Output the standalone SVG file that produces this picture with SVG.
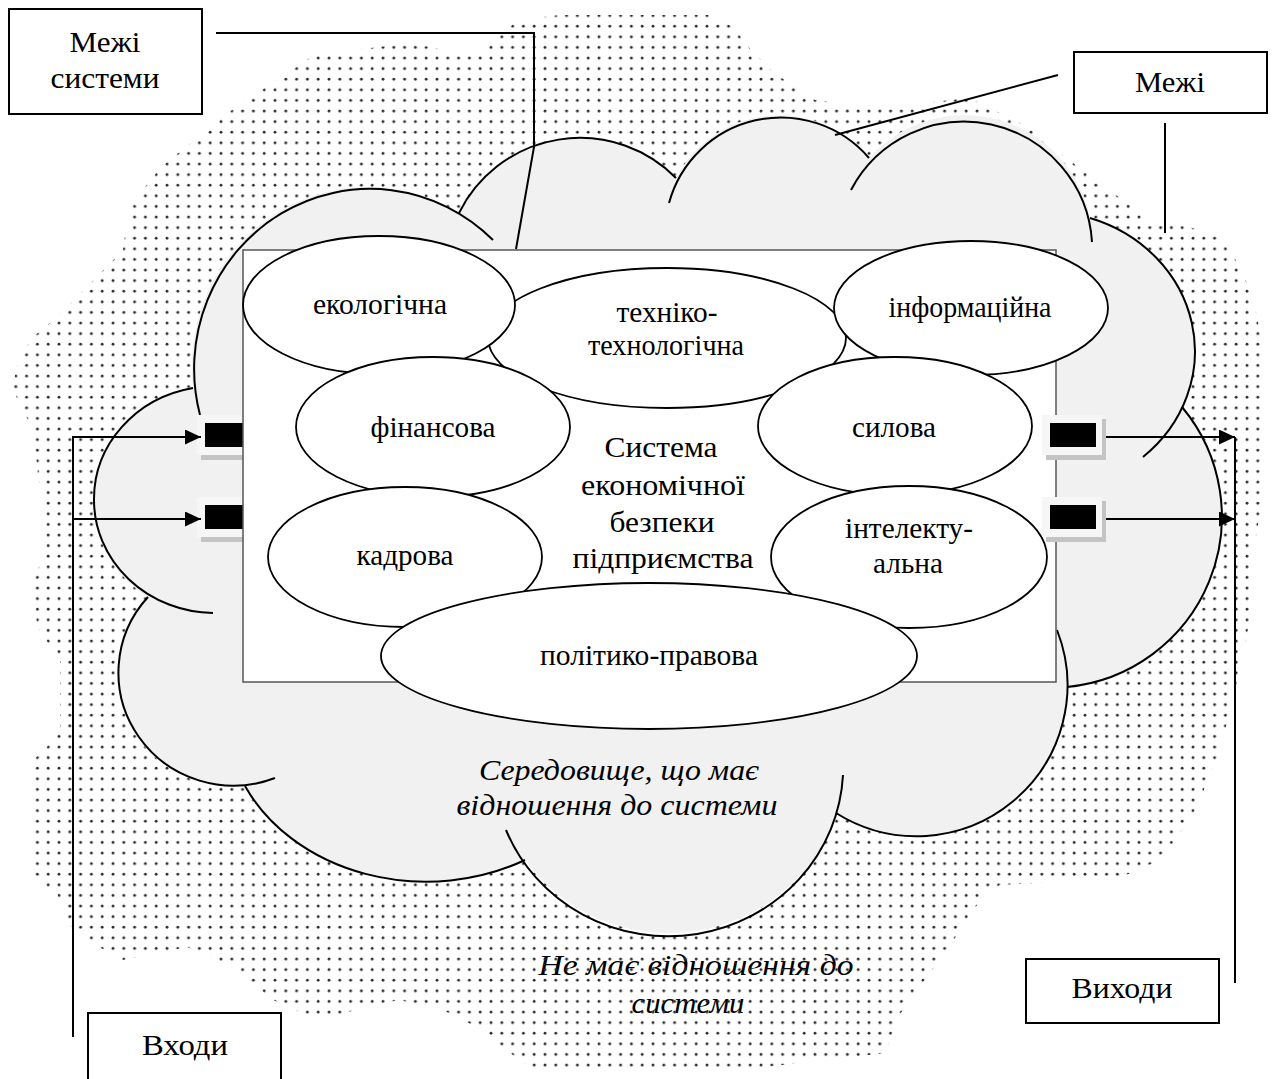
<svg xmlns="http://www.w3.org/2000/svg" width="1273" height="1079" viewBox="0 0 1273 1079">
<defs>
<pattern id="dots" patternUnits="userSpaceOnUse" width="10.8" height="10.6"><circle cx="5" cy="5" r="1.4" fill="#2a2a2a"/></pattern>
<marker id="arr" markerUnits="userSpaceOnUse" markerWidth="17" markerHeight="16" refX="16" refY="7.5" orient="auto"><path d="M0,0 L16,7.5 L0,15 Z" fill="#000"/></marker>
</defs>
<style>
.t{font-family:"Liberation Serif","Times New Roman",serif;font-size:30px;fill:#000;text-anchor:middle}
.i{font-style:italic}
.el{fill:#fff;stroke:#000;stroke-width:1.8}
.box{fill:#fff;stroke:#000;stroke-width:2}
.ln{fill:none;stroke:#000;stroke-width:2}
.cl{fill:none;stroke:#000;stroke-width:2}
.pl{fill:#f6f6f6}
.ps{fill:#c4c4c4}
</style>
<rect width="1273" height="1079" fill="#fff"/>
<g id="outside-text">
<text class="t i" x="696" y="975" textLength="315" lengthAdjust="spacingAndGlyphs">Не має відношення до</text>
<text class="t i" x="688" y="1013" textLength="113" lengthAdjust="spacingAndGlyphs">системи</text>
</g>
<g id="environment">
<path fill="url(#dots)" d="M123,250 L129,207 L161,167 L232,110 L314,55 L411,43 L475,57 L518,20 L560,15 L710,15 L733,27 L751,50 L774,73 L815,100 L878,108 L969,98 L1028,127 L1069,160 L1105,187 L1150,220 L1219,233 L1240,267 L1253,297 L1263,347 L1263,420 L1260,513 L1252,560 L1252,610 L1240,667 L1230,713 L1217,757 L1197,807 L1173,843 L1153,863 L1133,873 L1100,880 L1000,885 L985,893 L949,947 L912,997 L896,1020 L886,1053 L765,1067 L581,1073 L529,1067 L476,1027 L450,1013 L400,1000 L383,1003 L317,1020 L273,1000 L233,967 L187,947 L123,960 L90,942 L67,923 L57,893 L33,880 L33,760 L47,747 L60,727 L60,660 L37,627 L33,577 L47,553 L33,430 L13,390 L13,383 L20,357 L33,337 L57,317 L87,287 Z"/>
</g>
<g id="cloud">
<path fill="#f1f1f1" d="M148,597 A121,113 0 0 1 94,500 A121,113 0 0 1 193,388 A176,180 0 0 1 459,213 A135,135 0 0 1 676,178 A116,116 0 0 1 869,158 A128,128 0 0 1 1090,218 A151,140 0 0 1 1182,407 A171,171 0 0 1 1067,687 A151,151 0 0 1 836,813 A175,170 0 0 1 525,860 A200,166 0 0 1 245,786 A115,113 0 0 1 148,597 Z"/>
<path class="cl" d="M213,613 A121,113 0 0 1 94,500 A121,113 0 0 1 193,388"/>
<path class="cl" d="M200,415 A176,180 0 0 1 493,240"/>
<path class="cl" d="M459,213 A135,135 0 0 1 676,178"/>
<path class="cl" d="M669,203 A116,116 0 0 1 869,158"/>
<path class="cl" d="M851,190 A128,128 0 0 1 1092,242"/>
<path class="cl" d="M1090,218 A151,140 0 0 1 1143,457"/>
<path class="cl" d="M1182,407 A171,171 0 0 1 1067,687"/>
<path class="cl" d="M1057,630 A151,151 0 0 1 836,813"/>
<path class="cl" d="M843,775 A175,170 0 0 1 506,830"/>
<path class="cl" d="M525,860 A200,166 0 0 1 245,786"/>
<path class="cl" d="M275,778 A115,113 0 0 1 148,597"/>
<text class="t i" x="619" y="780" textLength="280" lengthAdjust="spacingAndGlyphs">Середовище, що має</text>
<text class="t i" x="617" y="815" textLength="321" lengthAdjust="spacingAndGlyphs">відношення до системи</text>
</g>
<g id="input-port-1"><rect class="ps" x="201" y="419" width="60" height="41"/><rect class="pl" x="197" y="415" width="60" height="40"/><rect x="205" y="423" width="46" height="24" fill="#000"/></g>
<g id="input-port-2"><rect class="ps" x="201" y="501" width="60" height="41"/><rect class="pl" x="197" y="497" width="60" height="40"/><rect x="205" y="505" width="46" height="24" fill="#000"/></g>
<g id="system">
<rect x="243" y="250" width="813" height="432" fill="#fff" stroke="#555" stroke-width="1.5"/>
<text class="t" x="661" y="457" textLength="113" lengthAdjust="spacingAndGlyphs">Система</text>
<text class="t" x="663" y="495" textLength="164" lengthAdjust="spacingAndGlyphs">економічної</text>
<text class="t" x="662" y="532" textLength="105" lengthAdjust="spacingAndGlyphs">безпеки</text>
<text class="t" x="663" y="568" textLength="181" lengthAdjust="spacingAndGlyphs">підприємства</text>
</g>
<g id="tekhniko"><ellipse class="el" cx="667" cy="338" rx="179" ry="70"/><text class="t" x="667" y="322" textLength="101" lengthAdjust="spacingAndGlyphs">техніко-</text><text class="t" x="666" y="355" textLength="156" lengthAdjust="spacingAndGlyphs">технологічна</text></g>
<g id="ekologichna"><ellipse class="el" cx="379" cy="305" rx="136" ry="69"/><text class="t" x="380" y="314" textLength="134" lengthAdjust="spacingAndGlyphs">екологічна</text></g>
<g id="informatsiina"><ellipse class="el" cx="971" cy="308" rx="137" ry="67"/><text class="t" x="970" y="317" textLength="163" lengthAdjust="spacingAndGlyphs">інформаційна</text></g>
<g id="finansova"><ellipse class="el" cx="433" cy="427" rx="137" ry="70"/><text class="t" x="433" y="437" textLength="125" lengthAdjust="spacingAndGlyphs">фінансова</text></g>
<g id="sylova"><ellipse class="el" cx="895" cy="426" rx="137" ry="69"/><text class="t" x="894" y="437" textLength="84" lengthAdjust="spacingAndGlyphs">силова</text></g>
<g id="kadrova"><ellipse class="el" cx="405" cy="557" rx="137" ry="70"/><text class="t" x="405" y="565" textLength="97" lengthAdjust="spacingAndGlyphs">кадрова</text></g>
<g id="intelektualna"><ellipse class="el" cx="909" cy="557" rx="138" ry="71"/><text class="t" x="909" y="538" textLength="128" lengthAdjust="spacingAndGlyphs">інтелекту-</text><text class="t" x="908" y="573" textLength="70" lengthAdjust="spacingAndGlyphs">альна</text></g>
<g id="polityko-pravova"><ellipse class="el" cx="649" cy="656" rx="268" ry="73"/><text class="t" x="649" y="665" textLength="218" lengthAdjust="spacingAndGlyphs">політико-правова</text></g>
<g id="output-port-1"><rect class="ps" x="1046" y="419" width="60" height="41"/><rect class="pl" x="1042" y="415" width="60" height="40"/><rect x="1050" y="423" width="46" height="24" fill="#000"/></g>
<g id="output-port-2"><rect class="ps" x="1046" y="501" width="60" height="41"/><rect class="pl" x="1042" y="497" width="60" height="40"/><rect x="1050" y="505" width="46" height="24" fill="#000"/></g>
<g id="connectors">
<path class="ln" d="M216,33 H534 V147 L516,249"/>
<path class="ln" d="M1058,75 L835,135"/>
<path class="ln" d="M1165,123 V233"/>
<path class="ln" d="M73,437 V1037"/>
<path class="ln" d="M72,437 H201" marker-end="url(#arr)"/>
<path class="ln" d="M72,519 H201" marker-end="url(#arr)"/>
<path class="ln" d="M1106,437 H1235" marker-end="url(#arr)"/>
<path class="ln" d="M1106,519 H1235" marker-end="url(#arr)"/>
<path class="ln" d="M1235,437 V983"/>
</g>
<g id="label-mezhi-systemy"><rect class="box" x="9" y="9" width="193" height="105"/><text class="t" x="105" y="52" textLength="71" lengthAdjust="spacingAndGlyphs">Межі</text><text class="t" x="105" y="88" textLength="109" lengthAdjust="spacingAndGlyphs">системи</text></g>
<g id="label-mezhi"><rect class="box" x="1074" y="52" width="193" height="61"/><text class="t" x="1170" y="92" textLength="70" lengthAdjust="spacingAndGlyphs">Межі</text></g>
<g id="label-vykhody"><rect class="box" x="1026" y="959" width="193" height="64"/><text class="t" x="1122" y="998" textLength="101" lengthAdjust="spacingAndGlyphs">Виходи</text></g>
<g id="label-vkhody"><rect class="box" x="88" y="1013" width="193" height="80"/><text class="t" x="185" y="1055" textLength="86" lengthAdjust="spacingAndGlyphs">Входи</text></g>
</svg>
